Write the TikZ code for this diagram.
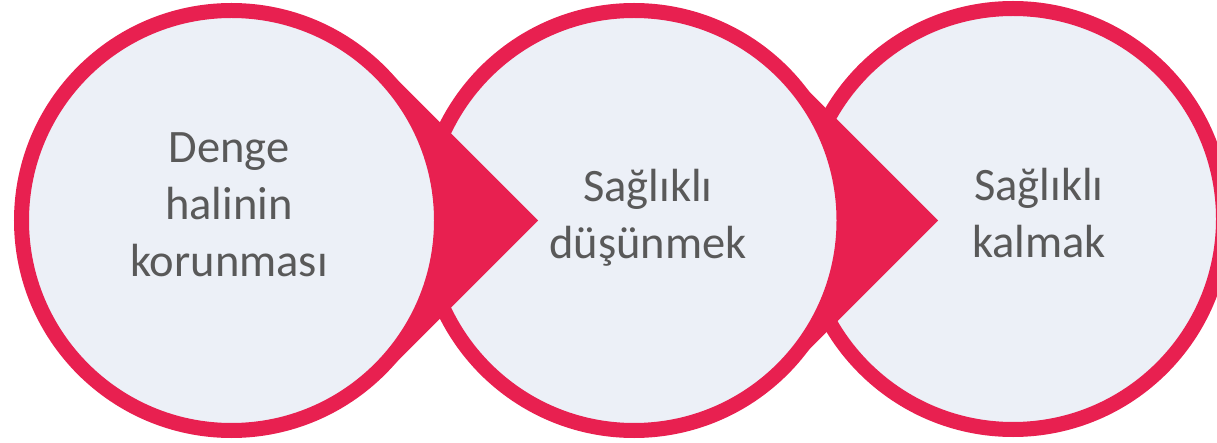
\documentclass[tikz,border=0pt]{standalone}
\usepackage{fontspec}
\setmainfont{Carlito}
\usetikzlibrary{calc}
\definecolor{crim}{RGB}{232,32,80}
\definecolor{pale}{RGB}{236,240,247}
\definecolor{txt}{RGB}{89,89,89}
\begin{document}
\begin{tikzpicture}[x=1pt,y=1pt,
  ring/.style={circle, draw=crim, fill=pale, line width=15pt, minimum size=420pt, inner sep=0pt},
  lbl/.style={align=center, text=txt, font=\fontsize{46.5}{57}\selectfont, anchor=base, inner sep=0pt},
  wedge/.style={fill=crim}]
\useasboundingbox (0,0) rectangle (1217,442);
\coordinate (p1) at (231.5,221.5);
\coordinate (p2) at (634,221.5);
\coordinate (p3) at (1013,223);
\node[ring, minimum size=421pt] (c3) at (p3) {};
\fill[wedge] ($(p2)+(152,152)$) -- ($(p2)+(304,0)$) -- ($(p2)+(152,-152)$) -- cycle;
\node[ring] (c2) at (p2) {};
\fill[wedge] ($(p1)+(153,153.5)$) -- ($(p1)+(306.5,0)$) -- ($(p1)+(153,-153.5)$) -- cycle;
\node[ring] (c1) at (p1) {};
\node[lbl] (t1) at (229,165) {Denge\\halinin\\korunması};
\node[lbl] (t2) at (648,183) {Sağlıklı\\düşünmek};
\node[lbl] (t3) at (1039,184) {Sağlıklı\\kalmak};
\end{tikzpicture}
\end{document}
